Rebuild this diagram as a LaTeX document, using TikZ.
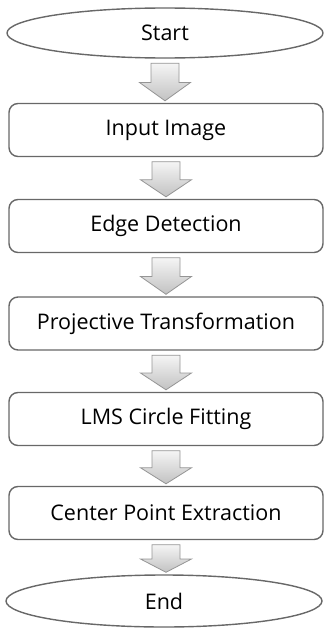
\documentclass[tikz,border=0pt]{standalone}
\usepackage{fontspec}
\setmainfont{Open Sans}
\usetikzlibrary{calc,shapes.geometric}

\definecolor{edgegray}{HTML}{686868}
\definecolor{arrowline}{HTML}{959595}

\tikzset{
  every node/.style={font=\fontsize{21.5}{23}\selectfont, text=black},
  terminal/.style={ellipse, draw=edgegray, line width=1.4pt, fill=white,
    minimum width=316pt, minimum height=50pt, inner sep=0pt},
  stepbox/.style={rectangle, rounded corners=9pt, draw=edgegray, line width=1.4pt,
    fill=white, minimum width=314pt, minimum height=53pt, inner sep=0pt},
  flowarrow/.style={draw=arrowline, line width=0.8pt, line join=miter,
    top color=gray!8, bottom color=gray!48}
}

% hollow block arrow from the bottom of #1 to the top of #2
\newcommand{\blockarrow}[2]{%
  \shade[flowarrow] let \p1=(#1.south), \p2=(#2.north),
      \n1={\y1-4.5pt}, \n2={\y2+2pt}, \n3={0.5*(\n1+\n2)-0.5pt} in
    (\x1-14pt,\n1) -- (\x1+14pt,\n1) -- (\x1+14pt,\n3) -- (\x1+25.5pt,\n3)
    -- (\x1,\n2) -- (\x1-25.5pt,\n3) -- (\x1-14pt,\n3) -- cycle;}

\begin{document}
\begin{tikzpicture}[x=1pt,y=-1pt]
  \useasboundingbox (0,0) rectangle (325,629);

  \node[terminal] (start) at (165,33) {Start};
  \node[stepbox] (input)  at (166,130) {Input Image};
  \node[stepbox] (edge)   at (166,226) {Edge Detection};
  \node[stepbox] (proj)   at (166,323.5) {Projective Transformation};
  \node[stepbox] (lms)    at (166,419) {LMS Circle Fitting};
  \node[stepbox] (center) at (166,513) {Center Point Extraction};
  \node[terminal, minimum height=52pt] (end) at (164,601) {End};

  \blockarrow{start}{input}
  \blockarrow{input}{edge}
  \blockarrow{edge}{proj}
  \blockarrow{proj}{lms}
  \blockarrow{lms}{center}
  \blockarrow{center}{end}
\end{tikzpicture}
\end{document}
